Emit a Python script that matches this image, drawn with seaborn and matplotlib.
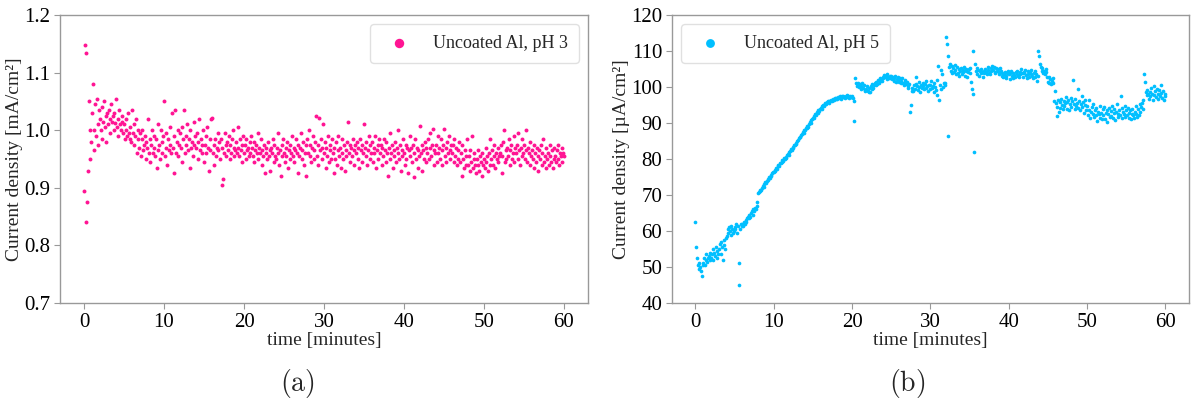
import numpy as np
import pandas as pd
import matplotlib
matplotlib.use("Agg")
import matplotlib.pyplot as plt
import seaborn as sns

# Current density, uncoated Al at pH 3 [mA/cm²], one reading every 0.1 min (rows = 1 min)
ph3_current = [
    0.895, 1.148, 0.84, 1.135, 0.875, 0.93, 1.05, 0.95, 1.0, 0.98,
    1.03, 1.08, 0.965, 1.0, 1.045, 0.99, 1.055, 1.01, 0.975, 1.035,
    1.02, 1.0, 1.04, 0.985, 1.015, 1.05, 1.005, 1.025, 0.98, 1.03,
    1.01, 1.035, 1.02, 0.995, 1.045, 1.015, 1.025, 1.0, 1.03, 1.012,
    1.055, 1.005, 1.02, 0.99, 1.035, 1.01, 1.0, 1.025, 1.015, 0.995,
    1.01, 0.985, 1.02, 1.0, 0.99, 1.03, 0.995, 1.005, 0.985, 0.98,
    1.035, 0.995, 1.01, 0.975, 0.99, 1.02, 0.96, 1.0, 0.985, 0.97,
    0.995, 0.955, 0.985, 1.0, 0.965, 0.975, 0.99, 0.95, 0.98, 0.97,
    1.02, 0.96, 0.985, 0.945, 0.975, 1.0, 0.96, 0.99, 0.97, 0.955,
    0.985, 0.935, 1.01, 0.965, 0.975, 0.95, 1.0, 0.96, 0.98, 0.99,
    1.05, 0.955, 0.97, 0.995, 0.94, 0.985, 0.965, 1.005, 0.975, 0.96,
    1.03, 0.97, 0.925, 0.99, 1.035, 0.96, 0.98, 1.0, 0.955, 0.975,
    0.995, 0.97, 1.005, 0.945, 0.985, 1.035, 0.96, 0.99, 0.975, 1.01,
    0.965, 0.985, 0.935, 1.0, 0.97, 0.98, 0.955, 1.015, 0.975, 0.99,
    0.97, 0.995, 0.95, 0.98, 1.02, 0.965, 0.985, 0.96, 0.975, 1.0,
    0.945, 0.975, 0.99, 0.96, 1.005, 0.97, 0.93, 0.985, 0.965, 1.02,
    1.022, 0.96, 0.975, 0.94, 0.985, 0.955, 0.97, 0.995, 0.965, 0.98,
    0.95, 0.985, 0.97, 0.905, 0.915, 0.96, 0.995, 0.975, 0.955, 0.98,
    0.965, 0.99, 0.95, 0.975, 0.96, 0.985, 1.0, 0.955, 0.97, 0.965,
    0.98, 0.96, 1.005, 0.97, 0.955, 0.985, 0.965, 0.975, 0.945, 0.99,
    0.96, 0.975, 0.95, 0.985, 0.965, 0.97, 0.955, 0.98, 0.96, 0.99,
    0.97, 0.955, 0.98, 0.945, 0.965, 0.975, 0.96, 0.995, 0.95, 0.97,
    0.96, 0.985, 0.94, 0.965, 0.955, 0.975, 0.925, 0.97, 0.96, 0.95,
    0.98, 0.955, 0.965, 0.93, 0.97, 0.96, 0.985, 0.945, 0.975, 0.955,
    0.95, 0.97, 0.96, 0.995, 0.94, 0.965, 0.92, 0.975, 0.955, 0.985,
    0.96, 0.945, 0.97, 0.955, 0.98, 0.935, 0.965, 0.95, 0.975, 0.96,
    0.99, 0.955, 0.97, 0.945, 0.965, 0.985, 0.96, 0.925, 0.975, 0.955,
    0.97, 0.995, 0.95, 0.965, 0.98, 0.94, 0.96, 0.975, 0.92, 0.985,
    0.96, 1.0, 0.955, 0.975, 0.945, 0.97, 0.99, 0.95, 0.965, 0.98,
    1.025, 0.955, 0.975, 0.94, 1.022, 0.965, 0.985, 0.95, 0.97, 1.01,
    0.96, 0.98, 0.935, 0.97, 0.955, 0.99, 0.945, 0.965, 0.975, 0.95,
    0.985, 0.96, 0.925, 0.97, 0.95, 0.98, 0.94, 0.965, 0.99, 0.955,
    0.97, 0.935, 0.96, 0.985, 0.95, 0.975, 0.93, 0.965, 0.955, 0.98,
    1.015, 0.96, 0.975, 0.945, 0.97, 0.955, 0.985, 0.94, 0.965, 0.975,
    0.96, 0.98, 0.95, 0.97, 0.935, 0.985, 0.965, 0.945, 0.975, 0.96,
    1.01, 0.97, 0.955, 0.98, 0.94, 0.965, 0.99, 0.95, 0.975, 0.96,
    0.98, 0.945, 0.97, 0.96, 0.99, 0.935, 0.965, 0.975, 0.95, 0.985,
    0.96, 0.975, 0.94, 0.97, 0.955, 0.985, 0.965, 0.945, 0.98, 0.96,
    0.92, 0.97, 0.95, 0.995, 0.96, 0.975, 0.935, 0.965, 0.955, 0.98,
    0.945, 0.97, 0.96, 1.0, 0.95, 0.975, 0.93, 0.965, 0.955, 0.985,
    0.96, 0.94, 0.975, 0.95, 0.97, 0.925, 0.965, 0.99, 0.955, 0.97,
    0.945, 0.975, 0.918, 0.96, 0.985, 0.95, 0.97, 0.935, 0.965, 0.955,
    1.008, 0.96, 0.975, 0.93, 0.965, 0.95, 0.98, 0.945, 0.97, 0.96,
    0.985, 0.95, 0.97, 0.995, 0.955, 0.975, 1.003, 0.94, 0.965, 0.96,
    0.975, 0.945, 0.99, 0.96, 0.97, 0.95, 0.985, 0.94, 0.965, 0.975,
    1.003, 0.955, 0.97, 0.945, 0.98, 0.96, 0.99, 0.95, 0.965, 0.975,
    0.96, 0.975, 0.945, 0.985, 0.955, 0.97, 0.94, 0.965, 0.95, 0.98,
    0.945, 0.96, 0.92, 0.975, 0.95, 0.935, 0.965, 0.94, 0.955, 0.985,
    0.94, 0.955, 0.93, 0.965, 0.945, 0.99, 0.935, 0.95, 0.96, 0.94,
    0.925, 0.95, 0.94, 0.965, 0.93, 0.955, 0.945, 0.92, 0.96, 0.94,
    0.95, 0.935, 0.97, 0.945, 0.955, 0.93, 0.96, 0.94, 0.985, 0.95,
    0.965, 0.94, 0.955, 0.975, 0.935, 0.96, 0.95, 0.945, 0.97, 0.955,
    0.96, 0.975, 0.925, 0.955, 0.98, 1.0, 0.945, 0.965, 0.95, 0.97,
    0.955, 0.985, 0.94, 0.965, 0.975, 0.95, 0.96, 0.99, 0.945, 0.97,
    0.96, 0.975, 0.95, 0.995, 0.965, 0.94, 0.97, 0.955, 0.985, 0.96,
    0.975, 0.95, 0.965, 1.0, 0.945, 0.97, 0.96, 0.98, 0.94, 0.955,
    0.965, 0.95, 0.975, 0.935, 0.96, 0.945, 0.97, 0.955, 0.93, 0.965,
    0.95, 0.975, 0.94, 0.96, 0.985, 0.945, 0.955, 0.935, 0.97, 0.95,
    0.96, 0.94, 0.955, 0.975, 0.945, 0.965, 0.935, 0.95, 0.97, 0.955,
    0.945, 0.965, 0.95, 0.975, 0.94, 0.96, 0.955, 0.97, 0.945, 0.96,
    0.955,
]

# Current density, uncoated Al at pH 5 [µA/cm²], one reading every 0.1 min (rows = 1 min)
ph5_current = [
    62.5, 55.5, 52.5, 50.5, 49.5, 51, 50, 49, 47.5, 50.5,
    51, 52.5, 50.5, 52, 53.5, 51.5, 52.5, 53, 52, 54,
    52.5, 53.5, 55, 52, 54, 53, 55.5, 52.5, 54.5, 53.5,
    55, 56.5, 53.5, 57, 55.5, 52, 56, 57.5, 55, 58,
    58.5, 60.5, 59.5, 61, 60, 59, 61.5, 60.5, 59.5, 60,
    61, 60.5, 62, 59.5, 61.5, 51, 45, 60.5, 62, 61.5,
    62, 61.5, 62.5, 62, 63, 62.5, 63.5, 64, 63.5, 64.5,
    64, 65, 65.5, 64.5, 66, 65.5, 66.5, 66, 67, 68,
    70.5, 70.8, 71, 71.5, 71.3, 72, 72.5, 72.2, 73, 73.5,
    73.3, 74, 74.5, 74.2, 75, 74.8, 75.5, 75.3, 76, 76.3,
    76.5, 77, 76.8, 77.5, 77.2, 78, 78.3, 78, 78.8, 79,
    79.3, 79.8, 79.5, 80.2, 80, 80.5, 80.3, 81, 81.5, 81.2,
    82, 82.3, 82.8, 82.5, 83.3, 83, 83.8, 84, 84.5, 84.3,
    85, 85.3, 85.8, 86.2, 86, 86.8, 87, 87.5, 87.3, 88,
    88.2, 88.6, 88.5, 89.2, 89, 89.8, 90.2, 90, 90.8, 91,
    91.5, 91.3, 92, 92.4, 92.2, 93, 92.8, 93.5, 93.3, 94,
    94.2, 94, 94.8, 95, 94.7, 95.3, 95.5, 95.2, 95.8, 96,
    95.6, 96.2, 96, 96.5, 96.2, 96.8, 96.5, 96.3, 97, 96.7,
    97, 96.8, 97.3, 97, 97.5, 97.2, 96.8, 97.4, 97.1, 97.6,
    97.3, 97, 97.6, 97.2, 97.8, 97.4, 96.9, 97.5, 97.1, 97.3,
    97.6, 97, 96.2, 90.5, 102.5, 101, 100.3, 101.2, 100.5, 100,
    100.8, 100.2, 99.5, 101, 99.8, 100.5, 99.3, 98.8, 99.5, 100.2,
    99, 98.5, 99.8, 98.7, 100.2, 99.5, 100.8, 99.8, 100.5, 101.2,
    100.5, 101.5, 100.8, 102, 101.2, 102.5, 101.6, 102.2, 101.8, 102.8,
    102.5, 103.3, 102.7, 103, 102.2, 103.5, 102.8, 102.4, 103.1, 102.6,
    103, 102.3, 102.8, 101.8, 102.5, 103.2, 101.5, 102.2, 102.8, 102,
    101.3, 102.4, 101, 101.8, 102.6, 101.2, 100.7, 101.5, 102, 100.9,
    101.4, 100.3, 99.6, 100.8, 93.2, 95.1, 99, 99.8, 98.8, 100.5,
    99.5, 100.8, 102.8, 100.2, 99.2, 101.5, 100, 98.7, 100.6, 99.8,
    101.2, 100.4, 99.4, 100.9, 99.8, 101.6, 100.2, 98.8, 100.7, 99.5,
    100.5, 101.8, 99.7, 100.3, 98.5, 101, 100, 99.2, 102, 97.8,
    105.8, 96.5, 100.5, 104.8, 99.5, 103.5, 100, 101, 100.5, 101.2,
    114, 112, 108.5, 86.5, 105.5, 106.5, 104.5, 105.8, 103.8, 105.2,
    104.2, 106, 104.8, 103.5, 105.5, 104, 105, 103.2, 104.6, 105.3,
    103.5, 104.8, 104.2, 105.5, 103, 104.5, 105, 102.8, 104.3, 104.9,
    103.8, 105.2, 101.5, 99.5, 98, 110, 82, 106.5, 104.5, 105.2,
    103.5, 104.8, 103.2, 104.5, 105, 103.8, 104.3, 102.8, 104.6, 103.9,
    105, 104.2, 103.5, 104.8, 105.5, 104, 103.6, 105.2, 104.5, 105.8,
    104.8, 105.5, 104.2, 103.8, 105.2, 104.6, 105, 103.5, 104.3, 105.3,
    104.5, 103.2, 104, 102.8, 103.6, 104.2, 103, 102.5, 103.8, 104.5,
    103.5, 102.2, 103.9, 104.4, 103.1, 102.6, 104, 103.4, 102.9, 104.2,
    103.6, 104.5, 103.2, 102.8, 104.1, 103.5, 105, 103.8, 102.7, 104.3,
    103.9, 104.7, 103.3, 102.6, 104.4, 103.7, 102.9, 104.2, 103.5, 104.8,
    103.1, 102.4, 103.8, 104.5, 102.9, 103.6, 101.8, 103.2, 110, 108.5,
    106.5, 105.5, 104.5, 105.2, 103.8, 104.6, 103.5, 105, 104.2, 102.8,
    101.5, 102.8, 101, 102.2, 100.8, 101.6, 102.5, 101.2, 96, 99,
    95.5, 92, 94.5, 96.5, 93, 95.8, 94.2, 96.8, 95, 93.8,
    96.2, 94.8, 95.5, 97.2, 94, 95.8, 96.5, 93.5, 95.2, 97,
    94.5, 96, 102, 95.2, 93.8, 96.8, 94.8, 95.6, 99.5, 94.2,
    96.2, 93.5, 95.4, 97.5, 94.4, 95.8, 92.8, 94.9, 96.4, 93.6,
    94.8, 92.2, 93.6, 96.5, 91.5, 93.2, 94.4, 92.5, 95.2, 91.8,
    93.5, 92.1, 94.2, 90.5, 93.1, 92.6, 91.4, 94.8, 92.8, 91.2,
    93.8, 92.3, 94.5, 91, 92.9, 93.6, 90.2, 92.4, 94.1, 91.8,
    93.3, 92, 94.6, 91.5, 93.8, 92.7, 90.8, 93.1, 95.2, 92.4,
    91.6, 93.5, 92.2, 97.5, 94.2, 91.3, 93, 92.6, 94.8, 91.8,
    93.7, 92.1, 94.3, 91.5, 92.9, 93.5, 91.2, 92.6, 94, 92.3,
    91.5, 93.2, 92.5, 94.6, 91.8, 93.9, 92.2, 95.3, 93, 94.5,
    95.5, 93.8, 96.5, 103.5, 101.5, 98.5, 97.8, 99.2, 98, 96.8,
    98.5, 97.5, 99.8, 98.2, 96.5, 100.3, 97.8, 98.8, 97.2, 99.5,
    98, 96.8, 99.2, 97.5, 100.5, 98.3, 97, 99, 96.5, 98.2,
    97.5,
]

# Sampling times [minutes]: 0.1 min interval from 0 to 60
time_min = np.linspace(0.0, 60.0, len(ph3_current))

df_ph3 = pd.DataFrame({"time": time_min, "current": ph3_current})
df_ph5 = pd.DataFrame({"time": np.linspace(0.0, 60.0, len(ph5_current)),
                       "current": ph5_current})

sns.set_style("ticks")
plt.rcParams["font.family"] = ["Liberation Serif", "DejaVu Serif"]
plt.rcParams["mathtext.fontset"] = "cm"
plt.rcParams["axes.edgecolor"] = "0.6"
plt.rcParams["xtick.color"] = "0.6"
plt.rcParams["ytick.color"] = "0.6"
plt.rcParams["xtick.labelcolor"] = "black"
plt.rcParams["ytick.labelcolor"] = "black"

fig = plt.figure(figsize=(11.91, 4.01), dpi=100)
ax_a = fig.add_axes([0.0504, 0.2444, 0.4433, 0.718])
ax_b = fig.add_axes([0.5642, 0.2444, 0.4340, 0.718])

pink = "#ff1493"
sky = "#00bfff"

sns.scatterplot(data=df_ph3, x="time", y="current", ax=ax_a, color=pink,
                s=8, linewidth=0, label="Uncoated Al, pH 3")
sns.scatterplot(data=df_ph5, x="time", y="current", ax=ax_b, color=sky,
                s=7, linewidth=0, label="Uncoated Al, pH 5")

ax_a.set_ylim(0.7, 1.2)
ax_a.set_yticks([0.7, 0.8, 0.9, 1.0, 1.1, 1.2])
ax_b.set_ylim(40, 120)
ax_b.set_yticks(range(40, 121, 10))

for ax, ylab, loc, tag, xtag in [
    (ax_a, "Current density [mA/cm²]", "upper right", "(a)", 0.250),
    (ax_b, "Current density [µA/cm²]", "upper left", "(b)", 0.762),
]:
    ax.set_xticks(range(0, 61, 10))
    ax.set_xlabel("time [minutes]", fontsize=14, labelpad=0)
    ax.set_ylabel(ylab, fontsize=14, labelpad=1)
    ax.tick_params(axis="both", labelsize=15, length=4, width=0.8, pad=3)
    for sp in ax.spines.values():
        sp.set_linewidth(1.0)
    leg = ax.legend(loc=loc, fontsize=13, markerscale=2.4, frameon=True,
                    handletextpad=0.9, borderpad=0.6, fancybox=True)
    leg.get_frame().set_edgecolor("0.85")
    fig.text(xtag, 0.043, r"$\mathrm{" + tag + "}$", fontsize=20,
             ha="center", va="center")

fig.savefig("out.png", dpi=100)
